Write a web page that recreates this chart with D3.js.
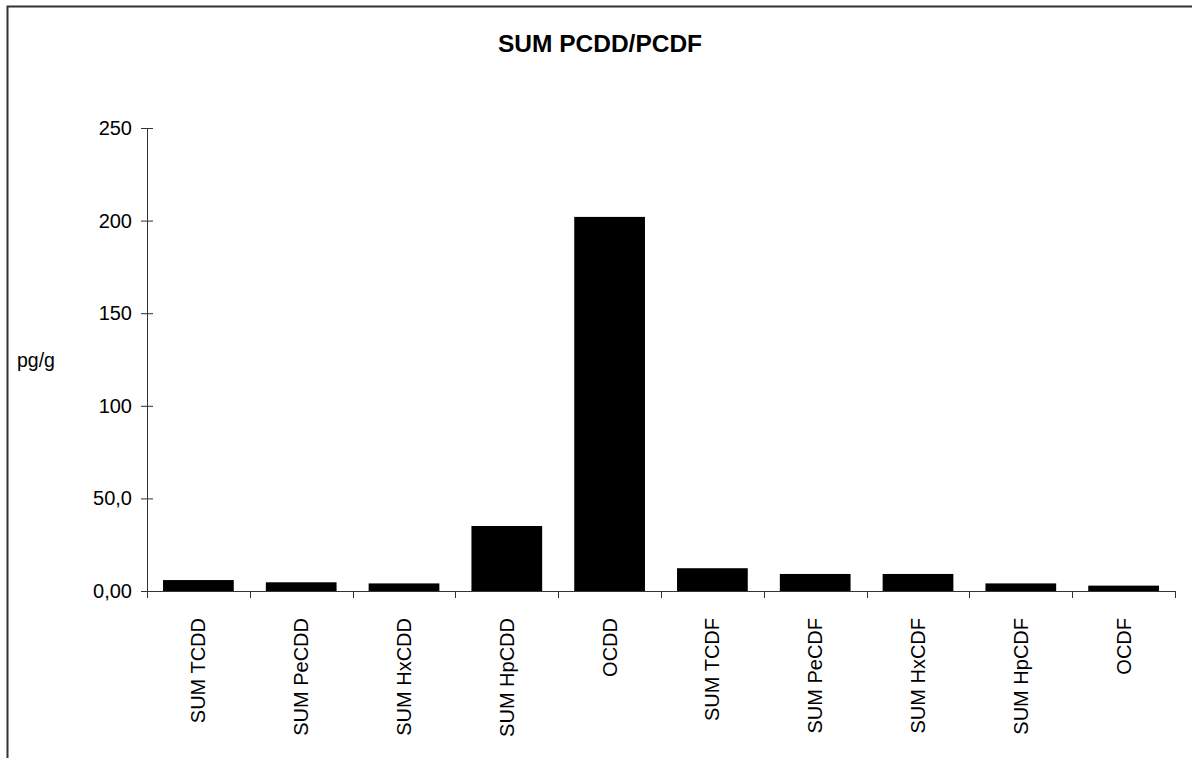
<!DOCTYPE html>
<html>
<head>
<meta charset="utf-8">
<script src="https://cdn.jsdelivr.net/npm/d3@7"></script>
<style>
  html, body { margin: 0; padding: 0; background: #fff; }
  svg { display: block; font-family: "Liberation Sans", Arial, sans-serif; }
</style>
</head>
<body>
<svg id="chart" width="1192" height="758"></svg>
<script>
const title = "SUM PCDD/PCDF";
const yAxisLabel = "pg/g";
const categories = ["SUM TCDD", "SUM PeCDD", "SUM HxCDD", "SUM HpCDD", "OCDD",
                    "SUM TCDF", "SUM PeCDF", "SUM HxCDF", "SUM HpCDF", "OCDF"];
const values = [5.9, 4.7, 4.1, 35.1, 202.0, 12.3, 9.2, 9.2, 4.1, 2.9];
const tickValues = [0, 50, 100, 150, 200, 250];
const tickLabels = ["0,00", "50,0", "100", "150", "200", "250"];

const svg = d3.select("#chart");
const plotLeft = 147, plotRight = 1175, plotTop = 128, plotBottom = 591;

const x = d3.scaleBand().domain(categories).range([plotLeft, plotRight])
  .paddingInner(0.312).paddingOuter(0.156);
const y = d3.scaleLinear().domain([0, 250]).range([plotBottom, plotTop]);

// frame
svg.append("path")
  .attr("d", d3.line()([[7.5, 758], [7.5, 6.5], [1192, 6.5]]))
  .attr("fill", "none").attr("stroke", "#333").attr("stroke-width", 2);

// title
svg.append("text").attr("x", 600).attr("y", 52)
  .attr("text-anchor", "middle").attr("font-weight", "bold")
  .attr("font-size", 24.5).attr("fill", "#000").text(title);

// y label
svg.append("text").attr("x", 17).attr("y", 367)
  .attr("font-size", 19.5).attr("fill", "#000").text(yAxisLabel);

// bars
svg.append("g").selectAll("rect").data(categories).join("rect")
  .attr("x", d => x(d))
  .attr("width", x.bandwidth())
  .attr("y", (d, i) => y(values[i]))
  .attr("height", (d, i) => plotBottom - y(values[i]))
  .attr("fill", "#000");

// y axis
const yAxis = d3.axisLeft(y).tickValues(tickValues)
  .tickFormat((d, i) => tickLabels[i]).tickSize(6).tickPadding(9);
const gy = svg.append("g").attr("transform", `translate(${plotLeft},0)`).call(yAxis);
gy.select(".domain").attr("stroke", "#333").attr("d", `M0.5,${plotTop}V${plotBottom + 6}`);
gy.selectAll(".tick line").attr("stroke", "#333").attr("x1", 6).attr("x2", -6);
gy.selectAll(".tick text").attr("font-size", 20).attr("font-family", "Liberation Sans, Arial, sans-serif").attr("fill", "#000");

// x axis line and ticks at band boundaries
const step = x.step();
const boundaries = categories.map(d => x(d) - step * x.paddingInner() / 2);
boundaries.push(plotRight);
const gx = svg.append("g");
gx.append("line").attr("x1", plotLeft).attr("x2", plotRight)
  .attr("y1", plotBottom + 0.5).attr("y2", plotBottom + 0.5).attr("stroke", "#333");
gx.selectAll("line.tk").data(boundaries).join("line").attr("class", "tk")
  .attr("x1", d => Math.round(d) + 0.5).attr("x2", d => Math.round(d) + 0.5)
  .attr("y1", plotBottom).attr("y2", plotBottom + 7).attr("stroke", "#333");

// x labels rotated
gx.selectAll("text").data(categories).join("text")
  .attr("transform", d => `translate(${x(d) + x.bandwidth() / 2},618) rotate(-90)`)
  .attr("text-anchor", "end").attr("dy", "0.35em")
  .attr("font-size", 20).attr("fill", "#000").text(d => d);
</script>
</body>
</html>
